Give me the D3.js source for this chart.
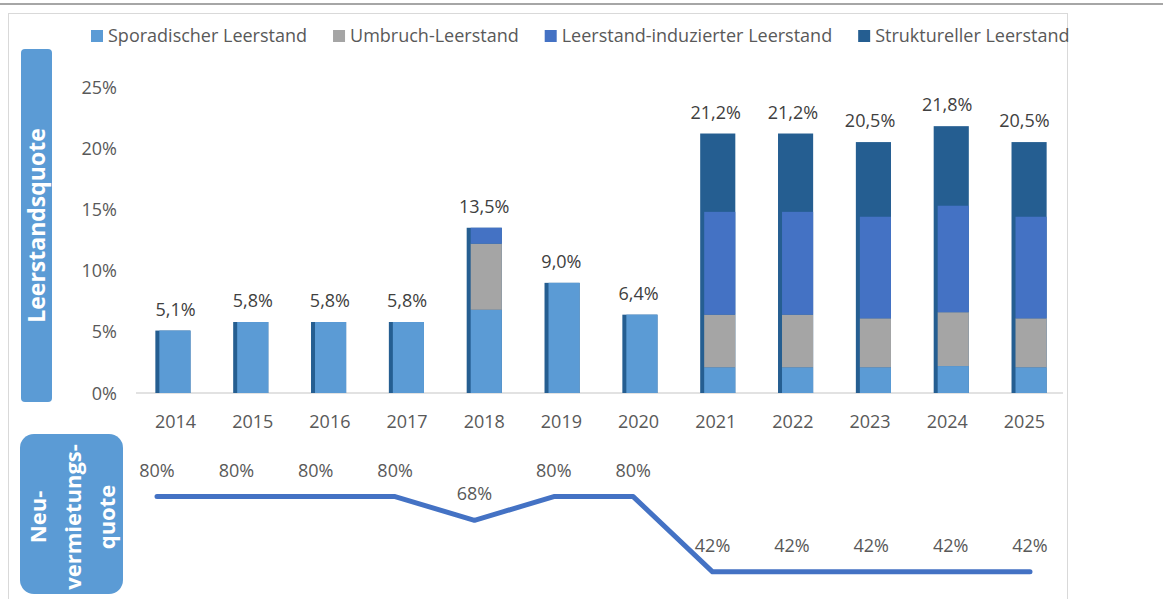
<!DOCTYPE html>
<html>
<head>
<meta charset="utf-8">
<script src="https://cdn.jsdelivr.net/npm/d3@7"></script>
<style>
  body { margin: 0; background: #fff; }
  svg { display: block; font-family: "Open Sans", "Noto Sans", sans-serif; }
</style>
</head>
<body>
<svg id="chart" width="1163" height="599"></svg>
<script>
// data
const years = ["2014", "2015", "2016", "2017", "2018", "2019", "2020", "2021", "2022", "2023", "2024", "2025"];
const sporadisch  = [5.1, 5.8, 5.8, 5.8, 6.8, 9.0, 6.4, 2.1, 2.1, 2.1, 2.2, 2.1];
const umbruch     = [0, 0, 0, 0, 5.4, 0, 0, 4.3, 4.3, 4.0, 4.4, 4.0];
const induziert   = [0, 0, 0, 0, 1.3, 0, 0, 8.4, 8.4, 8.3, 8.7, 8.3];
const strukturell = [0, 0, 0, 0, 0, 0, 0, 6.4, 6.4, 6.1, 6.5, 6.1];
const neuvermietung = [80, 80, 80, 80, 68, 80, 80, 42, 42, 42, 42, 42];
const yTicks = [0, 5, 10, 15, 20, 25];

const seriesNames = ["Sporadischer Leerstand", "Umbruch-Leerstand", "Leerstand-induzierter Leerstand", "Struktureller Leerstand"];
const colors = ["#5b9bd5", "#a5a5a5", "#4472c4", "#255e91"];

const svg = d3.select("#chart");

// frame + top rule
svg.append("line").attr("x1", 0).attr("x2", 1163).attr("y1", 4).attr("y2", 4)
  .attr("stroke", "#a6a6a6").attr("stroke-width", 2);
svg.append("rect").attr("x", 8.5).attr("y", 13.5).attr("width", 1059).attr("height", 600)
  .attr("fill", "none").attr("stroke", "#d9d9d9");

// scales
const xAxis = d3.scaleBand().domain(years).range([137, 1063]);
const xBar = d3.scaleBand().domain(years).range([136, 1070]).paddingInner(0.6).paddingOuter(0.3);
const y = d3.scaleLinear().domain([0, 25]).range([393, 87]);
const xLine = d3.scalePoint().domain(years).range([157, 1030]);
const yLine = d3.scaleLinear().domain([0, 100]).range([655, 457]);

// table for the stack
const rows = years.map((yr, i) => ({
  year: yr,
  s0: sporadisch[i], s1: umbruch[i], s2: induziert[i], s3: strukturell[i],
  total: sporadisch[i] + umbruch[i] + induziert[i] + strukturell[i]
}));

// side panels
const panel1 = svg.append("g");
panel1.append("rect").attr("x", 21).attr("y", 49).attr("width", 31).attr("height", 353)
  .attr("rx", 4).attr("fill", "#5b9bd5");
panel1.append("text")
  .attr("transform", "translate(45,225.5) rotate(-90)")
  .attr("text-anchor", "middle")
  .attr("fill", "#fff").attr("font-weight", 700).attr("font-size", 23)
  .text("Leerstandsquote");

const panel2 = svg.append("g");
panel2.append("rect").attr("x", 20).attr("y", 434).attr("width", 103).attr("height", 160)
  .attr("rx", 14).attr("fill", "#5b9bd5");
["Neu-", "vermietungs-", "quote"].forEach((t, i) => {
  panel2.append("text")
    .attr("transform", `translate(${46 + i * 34.5},517) rotate(-90)`)
    .attr("text-anchor", "middle")
    .attr("fill", "#fff").attr("font-weight", 700).attr("font-size", 22)
    .text(t);
});

// y tick labels
svg.append("g").selectAll("text").data(yTicks).join("text")
  .attr("x", 117).attr("y", d => y(d) + 6.5)
  .attr("text-anchor", "end").attr("font-size", 18).attr("fill", "#595959")
  .text(d => d + "%");

// baseline
svg.append("line").attr("x1", 136).attr("x2", 1063).attr("y1", y(0)).attr("y2", y(0))
  .attr("stroke", "#d9d9d9").attr("stroke-width", 1.5);

// back bar (total, dark) peeks out on the left
const strip = 4;
svg.append("g").selectAll("rect").data(rows).join("rect")
  .attr("x", d => xBar(d.year) - strip)
  .attr("width", xBar.bandwidth() + strip)
  .attr("y", d => y(d.total))
  .attr("height", d => y(0) - y(d.total))
  .attr("fill", colors[3]);

// front stack
const stack = d3.stack().keys(["s0", "s1", "s2"])(rows);
svg.append("g").selectAll("g").data(stack).join("g")
  .attr("fill", (d, i) => colors[i])
  .selectAll("rect").data(d => d).join("rect")
  .attr("x", d => xBar(d.data.year))
  .attr("width", xBar.bandwidth())
  .attr("y", d => y(d[1]))
  .attr("height", d => y(d[0]) - y(d[1]));

// value labels
svg.append("g").selectAll("text").data(rows).join("text")
  .attr("x", d => xAxis(d.year) + xAxis.bandwidth() / 2)
  .attr("y", d => y(d.total) - 15)
  .attr("text-anchor", "middle").attr("font-size", 18).attr("fill", "#404040")
  .text(d => d.total.toFixed(1).replace(".", ",") + "%");

// year labels
svg.append("g").selectAll("text").data(years).join("text")
  .attr("x", d => xAxis(d) + xAxis.bandwidth() / 2)
  .attr("y", 428)
  .attr("text-anchor", "middle").attr("font-size", 18).attr("fill", "#595959")
  .text(d => d);

// legend
const legend = svg.append("g");
let lx = 91;
seriesNames.forEach((name, i) => {
  legend.append("rect").attr("x", lx).attr("y", 30).attr("width", 12).attr("height", 12)
    .attr("fill", colors[i]);
  const t = legend.append("text").attr("x", lx + 17).attr("y", 42)
    .attr("font-size", 18).attr("fill", "#595959").text(name);
  lx += 17 + t.node().getComputedTextLength() + 26;
});

// Neuvermietungsquote line
const lineData = years.map((yr, i) => ({ year: yr, v: neuvermietung[i] }));
svg.append("path").datum(lineData)
  .attr("fill", "none").attr("stroke", "#4472c4").attr("stroke-width", 5)
  .attr("stroke-linecap", "round").attr("stroke-linejoin", "round")
  .attr("d", d3.line().x(d => xLine(d.year)).y(d => yLine(d.v)));

svg.append("g").selectAll("text").data(lineData).join("text")
  .attr("x", d => xLine(d.year))
  .attr("y", d => yLine(d.v) - 20)
  .attr("text-anchor", "middle").attr("font-size", 18).attr("fill", "#595959")
  .text(d => d.v + "%");
</script>
</body>
</html>
